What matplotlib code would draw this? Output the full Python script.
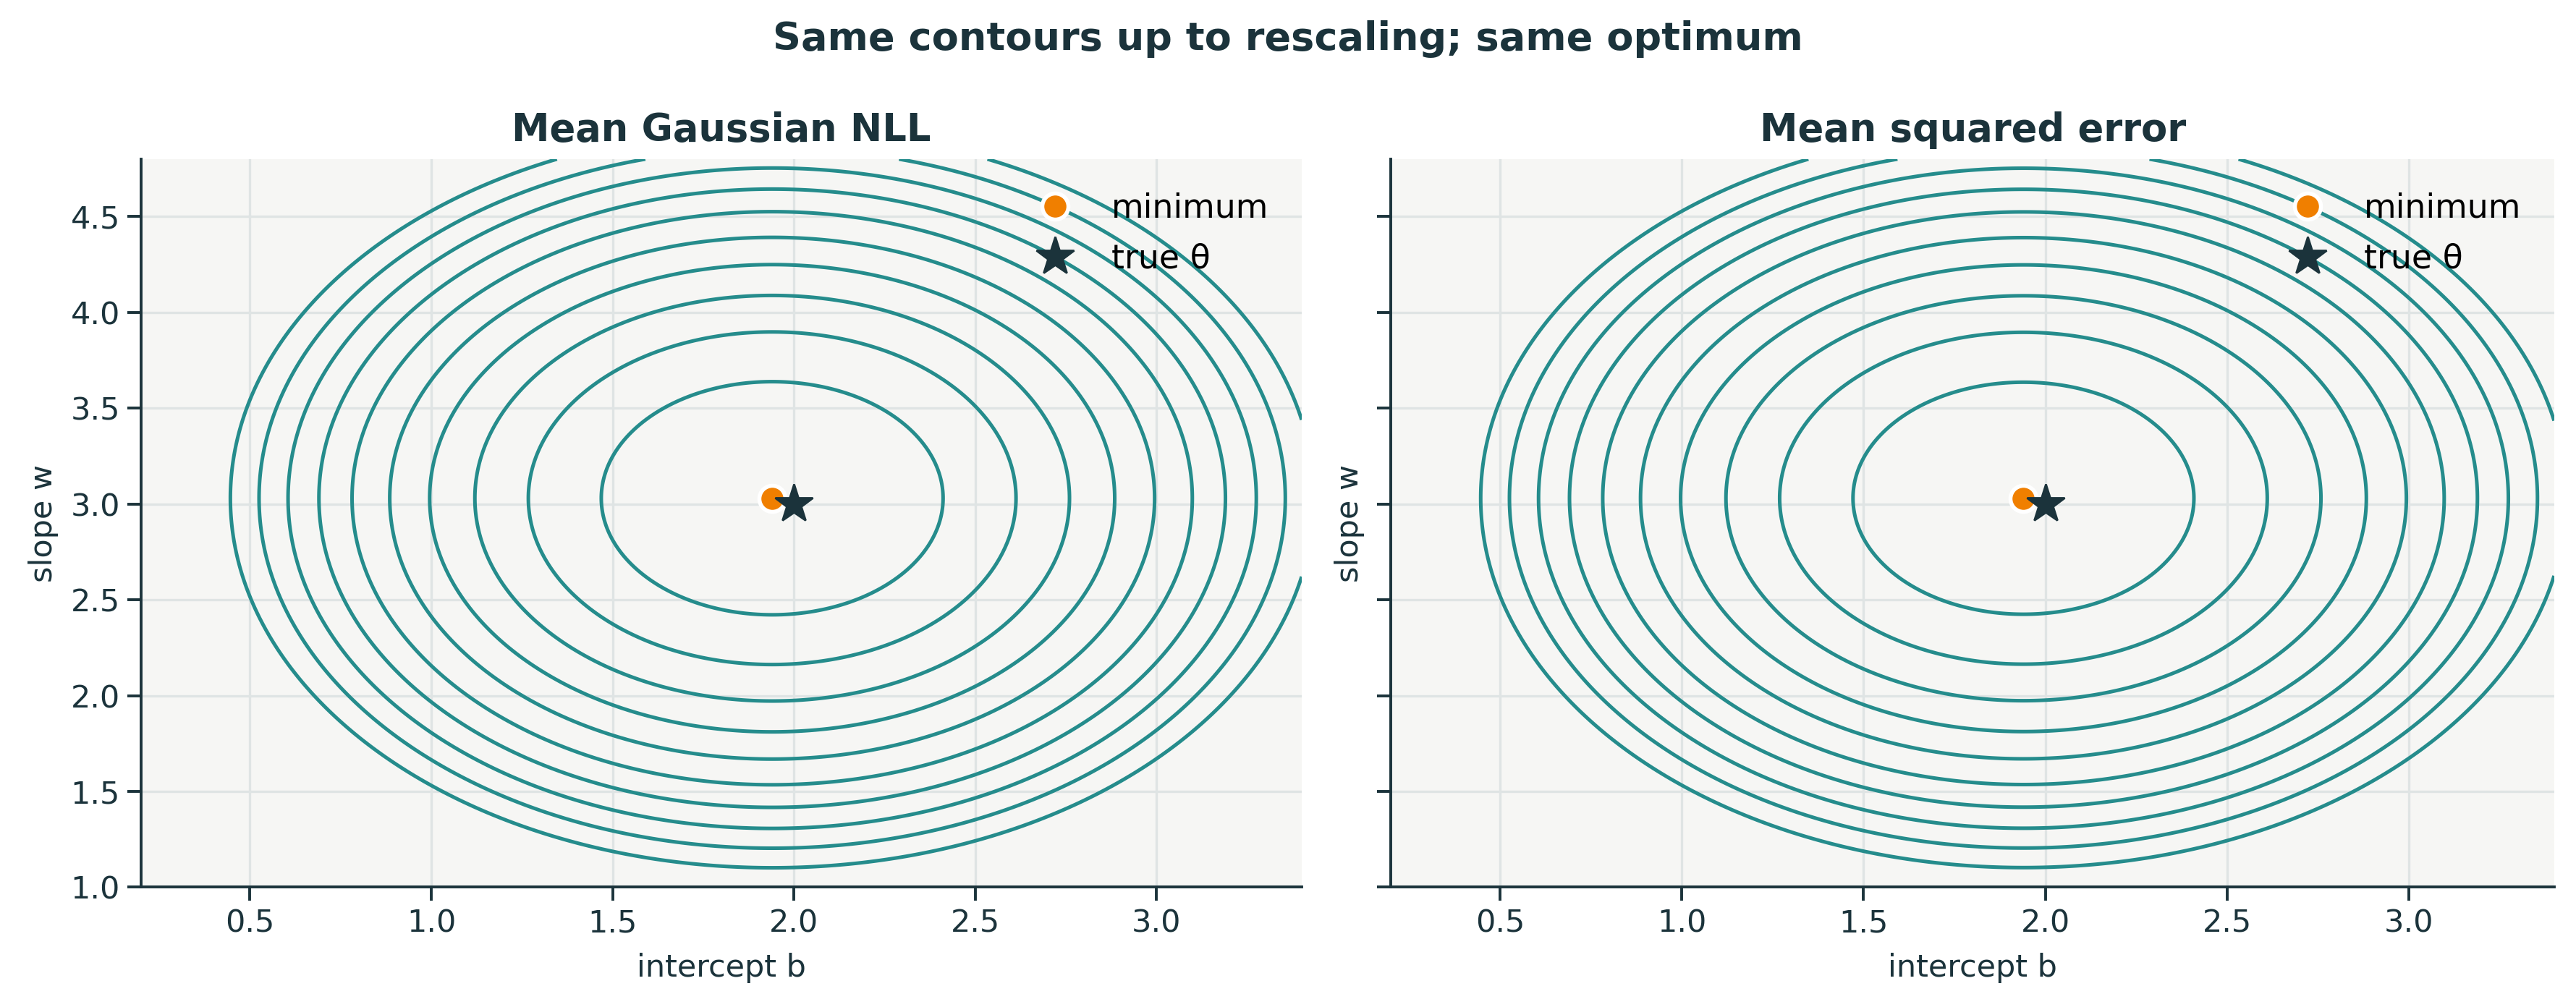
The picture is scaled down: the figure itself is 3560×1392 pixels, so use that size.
import matplotlib
matplotlib.use("Agg")
import matplotlib.pyplot as plt
import numpy as np

# fitted / true parameters
b_hat, w_hat = 1.94, 3.03
b_true, w_true = 2.0, 3.0
x_sq_mean = 0.60      # mean of x^2 (x centred), sets the ellipse aspect
noise_var = 0.25
mse_min = 0.25

mse_levels = [0.47, 0.70, 0.92, 1.14, 1.36, 1.59, 1.81, 2.03, 2.25, 2.48]
nll_levels = [1.17, 1.63, 2.07, 2.51, 2.95, 3.41, 3.85, 4.29, 4.73, 5.19]

b_range = (0.2, 3.4)
w_range = (1.0, 4.8)

ink = "#1b333b"
teal = "#258c8c"
orange = "#f07f00"
face = "#f6f6f4"
gridc = "#dfe4e4"

plt.rcParams["font.family"] = ["DejaVu Sans"]

B, W = np.meshgrid(np.linspace(b_range[0], b_range[1], 400),
                   np.linspace(w_range[0], w_range[1], 400))
mse = mse_min + (B - b_hat) ** 2 + x_sq_mean * (W - w_hat) ** 2
nll = 0.5 * np.log(2 * np.pi * noise_var) + mse / (2 * noise_var)

fig = plt.figure(figsize=(17.8, 6.96), dpi=200)
ax1 = fig.add_axes([0.0548, 0.119, 0.4505, 0.723])
ax2 = fig.add_axes([0.540, 0.119, 0.4515, 0.723], sharey=ax1)

panels = [(ax1, nll, nll_levels, "Mean Gaussian NLL"),
          (ax2, mse, mse_levels, "Mean squared error")]

for ax, Z, lev, title in panels:
    ax.set_facecolor(face)
    ax.contour(B, W, Z, levels=lev, colors=teal, linewidths=1.8)
    ax.plot([b_hat], [w_hat], "o", color=orange, ms=13, mec="white", mew=2,
            label="minimum", zorder=5)
    ax.plot([b_true], [w_true], "*", color=ink, ms=20, mec=ink, label="true θ",
            zorder=6)
    ax.set_xlim(*b_range)
    ax.set_ylim(*w_range)
    ax.set_title(title, fontsize=19, fontweight="bold", color=ink, pad=9)
    ax.set_xlabel("intercept b", fontsize=15.5, color=ink, labelpad=7)
    ax.set_ylabel("slope w", fontsize=15.5, color=ink, labelpad=6)
    ax.grid(True, color=gridc, lw=1.2)
    ax.set_axisbelow(True)
    for s in ["top", "right"]:
        ax.spines[s].set_visible(False)
    for s in ["left", "bottom"]:
        ax.spines[s].set_color(ink)
        ax.spines[s].set_linewidth(1.4)
    ax.tick_params(colors=ink, labelsize=15.5, length=7, width=1.4)
    ax.set_xticks([0.5, 1.0, 1.5, 2.0, 2.5, 3.0])
    ax.set_yticks([1.0, 1.5, 2.0, 2.5, 3.0, 3.5, 4.0, 4.5])
    ax.legend(loc="upper right", frameon=False, fontsize=16.5,
              handletextpad=0.7, borderaxespad=0.6, labelspacing=0.55)

ax2.tick_params(labelleft=False)

fig.suptitle("Same contours up to rescaling; same optimum", fontsize=19.5,
             fontweight="bold", color=ink, y=0.98)

fig.savefig("out.png", dpi=200)
